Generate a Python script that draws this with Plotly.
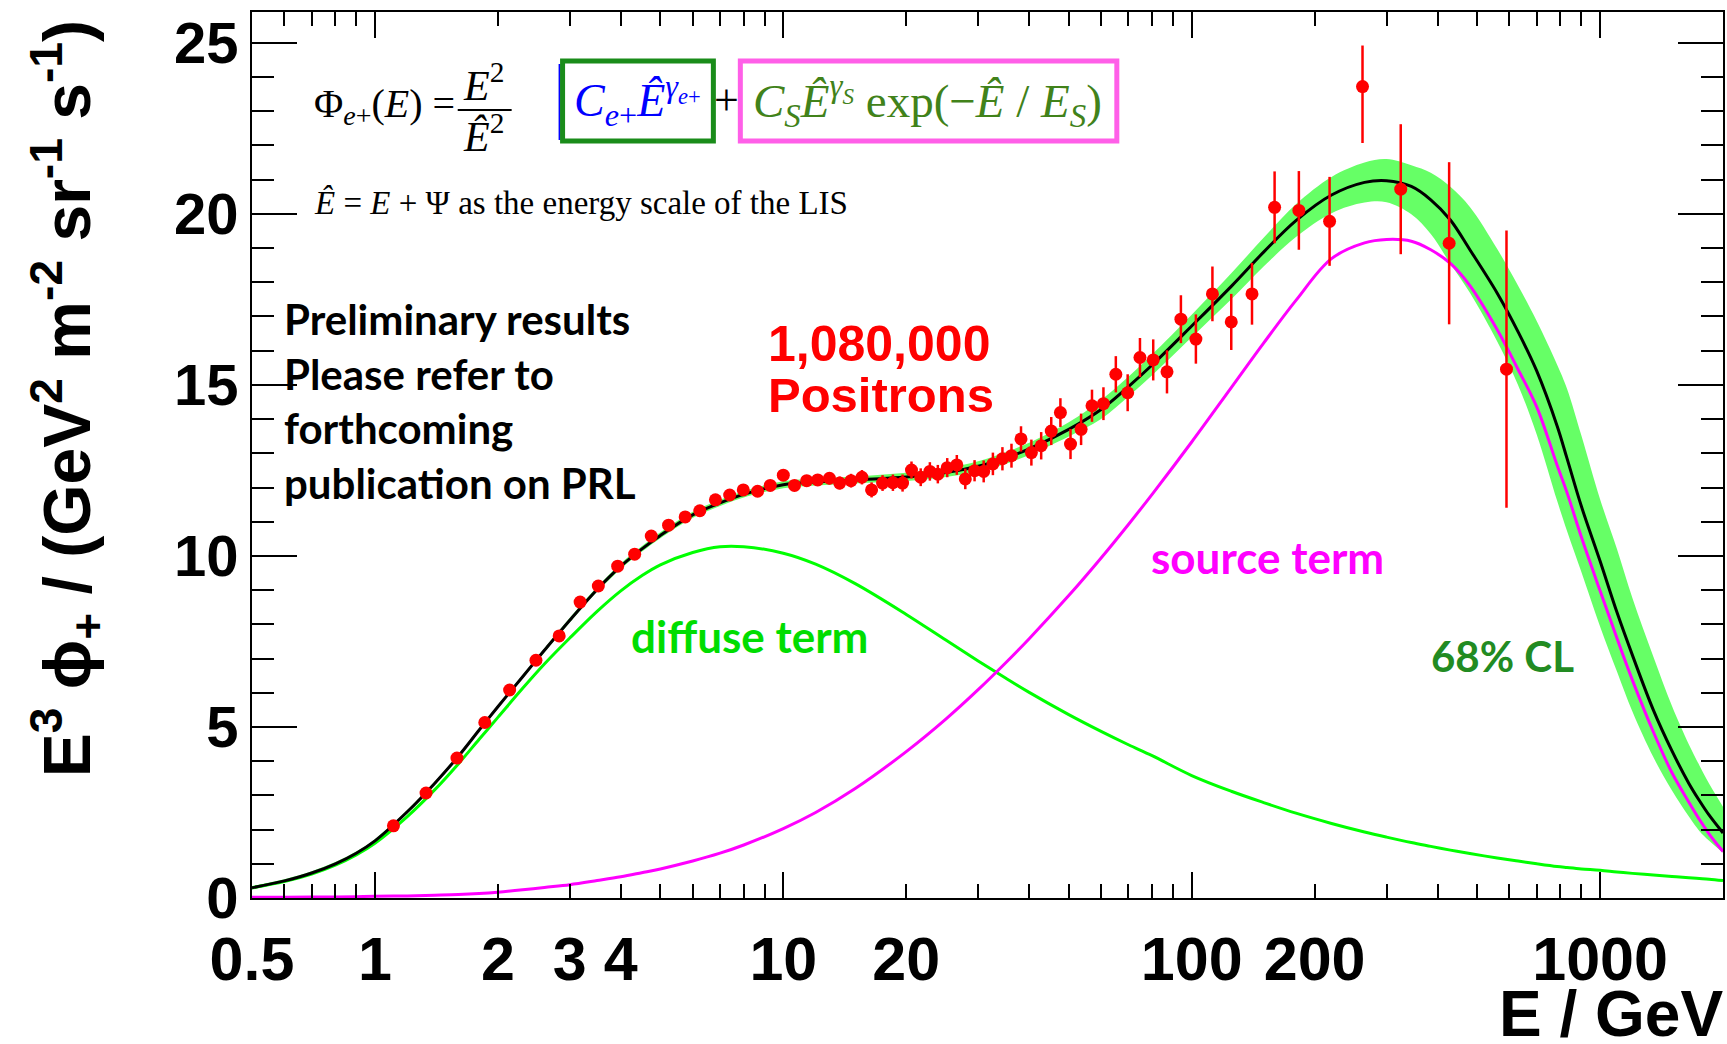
import numpy as np
import plotly.graph_objects as go

# ---------------- data ----------------
energy = [1.11, 1.334, 1.588, 1.858, 2.137, 2.479, 2.826, 3.18, 3.524, 3.93,
          4.325, 4.75, 5.236, 5.75, 6.245, 6.82, 7.39, 7.98, 8.65, 9.29,
          10.0, 10.65, 11.41, 12.14, 12.97, 13.74, 14.65, 15.58, 16.45, 17.5,
          18.55, 19.59, 20.6, 21.7, 22.85, 23.9, 25.2, 26.6, 27.9, 29.4,
          30.95, 32.6, 34.4, 36.2, 38.2, 40.5, 42.8, 45.3, 47.7, 50.5,
          53.6, 57.0, 60.8, 65.2, 69.7, 74.7, 80.5, 87.0, 94.1, 102.4,
          112.4, 125.0, 140.5, 159.6, 183.0, 217.6, 262.0, 325.0, 427.0, 590.0]
flux = [2.11, 3.07, 4.09, 5.13, 6.08, 6.95, 7.66, 8.65, 9.12, 9.70,
        10.05, 10.58, 10.90, 11.14, 11.32, 11.64, 11.78, 11.93, 11.89, 12.06,
        12.36, 12.06, 12.20, 12.22, 12.27, 12.13, 12.20, 12.30, 11.93, 12.13,
        12.14, 12.13, 12.51, 12.30, 12.47, 12.39, 12.58, 12.66, 12.25, 12.49,
        12.47, 12.69, 12.84, 12.93, 13.42, 13.02, 13.22, 13.65, 14.19, 13.27,
        13.70, 14.39, 14.45, 15.31, 14.77, 15.80, 15.73, 15.38, 16.92, 16.34,
        17.66, 16.84, 17.66, 20.19, 20.10, 19.78, 23.72, 20.72, 19.14, 15.46]
err_up = [0.08, 0.08, 0.08, 0.08, 0.08, 0.08, 0.08, 0.08, 0.08, 0.08,
          0.09, 0.09, 0.09, 0.10, 0.10, 0.10, 0.11, 0.11, 0.12, 0.12,
          0.14, 0.15, 0.16, 0.17, 0.18, 0.19, 0.20, 0.21, 0.22, 0.23,
          0.24, 0.25, 0.25, 0.26, 0.27, 0.27, 0.28, 0.29, 0.30, 0.31,
          0.32, 0.33, 0.34, 0.35, 0.37, 0.38, 0.40, 0.41, 0.42, 0.44,
          0.46, 0.47, 0.48, 0.53, 0.54, 0.57, 0.60, 0.63, 0.70, 0.72,
          0.80, 0.82, 0.90, 1.05, 1.15, 1.30, 1.20, 1.90, 2.37, 4.05]
err_down = [0.08, 0.08, 0.08, 0.08, 0.08, 0.08, 0.08, 0.08, 0.08, 0.08,
            0.09, 0.09, 0.09, 0.10, 0.10, 0.10, 0.11, 0.11, 0.12, 0.12,
            0.14, 0.15, 0.16, 0.17, 0.18, 0.19, 0.20, 0.21, 0.22, 0.23,
            0.24, 0.25, 0.25, 0.26, 0.27, 0.27, 0.28, 0.29, 0.30, 0.31,
            0.32, 0.33, 0.34, 0.35, 0.37, 0.38, 0.40, 0.41, 0.42, 0.44,
            0.46, 0.47, 0.48, 0.53, 0.54, 0.57, 0.60, 0.63, 0.70, 0.72,
            0.80, 0.82, 0.90, 1.05, 1.15, 1.30, 1.65, 1.90, 2.37, 4.05]

# model curves
curve_e = [0.5, 0.6, 0.7, 0.8, 0.9, 1.0, 1.2, 1.4, 1.6, 1.8, 2.0, 2.3, 2.6, 3.0, 3.5,
           4.0, 4.5, 5.0, 6.0, 7.0, 8.0, 10, 12, 15, 20, 25, 30, 35, 40, 50, 60, 70,
           80, 100, 125, 150, 180, 220, 265, 300, 345, 385, 430, 480, 560, 630, 700,
           785, 830, 900, 1000, 1100, 1200, 1350, 1500, 1650, 1750, 1850, 2000]
total_fit = [0.30, 0.50, 0.73, 1.00, 1.31, 1.67, 2.52, 3.35, 4.14, 4.91, 5.59, 6.47, 7.24, 8.12, 9.02,
             9.70, 10.20, 10.60, 11.20, 11.55, 11.80, 12.08, 12.16, 12.22, 12.31, 12.44, 12.62, 12.86, 13.13, 13.70, 14.28, 14.95,
             15.58, 16.72, 17.88, 18.88, 19.80, 20.55, 20.92, 20.97, 20.80, 20.41, 19.82, 18.95, 17.68, 16.55, 15.40,
             13.80, 12.85, 11.45, 9.85, 8.35, 7.10, 5.50, 4.30, 3.35, 2.85, 2.42, 1.90]
diffuse = [0.30, 0.48, 0.70, 0.96, 1.26, 1.60, 2.38, 3.16, 3.92, 4.64, 5.28, 6.13, 6.84, 7.60, 8.38,
           8.98, 9.42, 9.74, 10.10, 10.27, 10.27, 10.08, 9.76, 9.19, 8.29, 7.54, 6.93, 6.43, 6.01, 5.36, 4.87, 4.48,
           4.16, 3.58, 3.12, 2.79, 2.48, 2.18, 1.93, 1.78, 1.62, 1.51, 1.40, 1.30, 1.17, 1.08, 1.00,
           0.92, 0.89, 0.85, 0.81, 0.76, 0.72, 0.67, 0.63, 0.59, 0.57, 0.55, 0.51]
source = [0.02, 0.02, 0.03, 0.03, 0.04, 0.05, 0.06, 0.08, 0.10, 0.13, 0.17, 0.24, 0.31, 0.39, 0.51,
          0.62, 0.74, 0.85, 1.08, 1.31, 1.55, 2.03, 2.50, 3.20, 4.28, 5.23, 6.09, 6.87, 7.58, 8.84, 9.94, 10.92,
          11.80, 13.33, 14.92, 16.22, 17.47, 18.69, 19.15, 19.25, 19.20, 18.95, 18.55, 17.90, 16.61, 15.45, 14.35,
          12.65, 11.85, 10.55, 8.98, 7.59, 6.37, 4.86, 3.66, 2.80, 2.30, 1.87, 1.36]
band_upper = [0.35, 0.55, 0.78, 1.05, 1.36, 1.72, 2.57, 3.40, 4.19, 4.96, 5.64, 6.52, 7.30, 8.19, 9.09,
              9.78, 10.28, 10.69, 11.29, 11.64, 11.89, 12.18, 12.26, 12.32, 12.43, 12.57, 12.77, 13.03, 13.31, 13.91, 14.56, 15.24,
              15.89, 17.05, 18.26, 19.30, 20.28, 21.08, 21.50, 21.60, 21.42, 21.20, 20.79, 20.20, 18.97, 17.90, 16.86,
              15.59, 14.89, 13.52, 11.66, 10.20, 8.77, 7.06, 5.61, 4.49, 3.88, 3.34, 2.67]
band_lower = [0.25, 0.45, 0.68, 0.95, 1.26, 1.62, 2.47, 3.30, 4.09, 4.86, 5.54, 6.42, 7.18, 8.05, 8.95,
              9.62, 10.12, 10.52, 11.11, 11.46, 11.71, 11.98, 12.06, 12.12, 12.19, 12.31, 12.47, 12.69, 12.95, 13.49, 14.00, 14.66,
              15.28, 16.39, 17.50, 18.46, 19.32, 20.02, 20.33, 20.34, 19.99, 19.41, 18.54, 17.69, 16.27, 14.99, 13.54,
              11.61, 10.73, 9.53, 7.94, 6.62, 5.45, 4.12, 3.14, 2.38, 1.96, 1.67, 1.32]

x_label_vals = [0.5, 1, 2, 3, 4, 10, 20, 100, 200, 1000]
x_label_text = ["0.5", "1", "2", "3", "4", "10", "20", "100", "200", "1000"]
x_major_ticks = [1, 10, 100, 1000]
x_minor_ticks = [0.6, 0.7, 0.8, 0.9, 2, 3, 4, 5, 6, 7, 8, 9, 20, 30, 40, 50, 60, 70, 80, 90,
                 200, 300, 400, 500, 600, 700, 800, 900, 2000]

# ---------------- figure ----------------
W, H = 1727, 1044
L, R, T, B = 252, 2, 12, 146
PW, PH = W - L - R, H - T - B

def px(x):
    return (x - L) / PW

def py(y):
    return (H - B - y) / PH

fig = go.Figure()

fig.add_trace(go.Scatter(x=curve_e, y=band_lower, mode="lines", line=dict(width=0, shape="spline"),
                         hoverinfo="skip", showlegend=False))
fig.add_trace(go.Scatter(x=curve_e, y=band_upper, mode="lines", line=dict(width=0, shape="spline"),
                         fill="tonexty", fillcolor="#66ff66", hoverinfo="skip", showlegend=False))
fig.add_trace(go.Scatter(x=curve_e, y=diffuse, mode="lines",
                         line=dict(color="#00ff00", width=3, shape="spline"), showlegend=False))
fig.add_trace(go.Scatter(x=curve_e, y=source, mode="lines",
                         line=dict(color="#ff00ff", width=3, shape="spline"), showlegend=False))
fig.add_trace(go.Scatter(x=curve_e, y=total_fit, mode="lines",
                         line=dict(color="black", width=3, shape="spline"), showlegend=False))
# data points are drawn on the overlaid (labelled) x axis, which has the same range
fig.add_trace(go.Scatter(x=energy, y=flux, mode="markers", xaxis="x2", yaxis="y",
                         marker=dict(color="#ff0000", size=13),
                         error_y=dict(type="data", array=err_up, arrayminus=err_down,
                                      color="#ff0000", thickness=2.5, width=0),
                         showlegend=False))

xr = [np.log10(0.5), np.log10(2000)]

fig.update_layout(
    width=W, height=H,
    margin=dict(l=L, r=R, t=T, b=B, pad=0),
    paper_bgcolor="white", plot_bgcolor="white",
    xaxis=dict(type="log", range=xr, tickmode="array", tickvals=x_major_ticks,
               ticks="inside", ticklen=26, tickwidth=2, tickcolor="black",
               showticklabels=False, showgrid=False, zeroline=False,
               showline=True, linecolor="black", linewidth=2, mirror="ticks",
               minor=dict(tickmode="array", tickvals=x_minor_ticks, ticks="inside",
                          ticklen=14, tickwidth=2, tickcolor="black", showgrid=False)),
    xaxis2=dict(type="log", range=xr, overlaying="x", anchor="y", side="bottom",
                tickmode="array", tickvals=x_label_vals, ticktext=x_label_text,
                ticks="", showline=False, showgrid=False, zeroline=False,
                ticklabelstandoff=20,
                tickfont=dict(family="Liberation Sans", size=61, color="black", weight="bold")),
    yaxis=dict(range=[0, 25.9], tickmode="linear", tick0=0, dtick=5,
               ticks="inside", ticklen=45, tickwidth=2, tickcolor="black",
               showgrid=False, zeroline=False,
               showline=True, linecolor="black", linewidth=2, mirror="ticks",
               tickfont=dict(family="Liberation Sans", size=58, color="black", weight="bold"),
               minor=dict(dtick=1, ticks="inside", ticklen=22, tickwidth=2,
                          tickcolor="black", showgrid=False)),
)

ann = []
# axis titles
ann.append(dict(text="E<sup>3</sup> ϕ<sub>+</sub> / (GeV<sup>2</sup> m<sup>-2</sup> sr<sup>-1</sup> s<sup>-1</sup>)",
                x=px(67), y=py(399), xref="paper", yref="paper", textangle=-90,
                showarrow=False, xanchor="center", yanchor="middle",
                font=dict(family="Liberation Sans", size=66, color="black", weight="bold")))
ann.append(dict(text="E / GeV", x=px(1727), y=py(1014), xref="paper", yref="paper",
                showarrow=False, xanchor="right", yanchor="middle",
                font=dict(family="Liberation Sans", size=64, color="black", weight="bold")))
# notes
ann.append(dict(text="Preliminary results<br>Please refer to<br>forthcoming<br>publication on PRL",
                x=px(282), y=py(292), xref="paper", yref="paper", showarrow=False,
                xanchor="left", yanchor="top", align="left",
                font=dict(family="Lato", size=42, color="black", weight="bold")))
ann.append(dict(text="1,080,000", x=px(880), y=py(344), xref="paper", yref="paper",
                showarrow=False, xanchor="center", yanchor="middle",
                font=dict(family="Liberation Sans", size=50, color="#ff0000", weight="bold")))
ann.append(dict(text="Positrons", x=px(882), y=py(395), xref="paper", yref="paper",
                showarrow=False, xanchor="center", yanchor="middle",
                font=dict(family="Liberation Sans", size=49, color="#ff0000", weight="bold")))
ann.append(dict(text="diffuse term", x=px(630), y=py(636), xref="paper", yref="paper",
                showarrow=False, xanchor="left", yanchor="middle",
                font=dict(family="Lato", size=44, color="#00dd00", weight="bold")))
ann.append(dict(text="source term", x=px(1150), y=py(557), xref="paper", yref="paper",
                showarrow=False, xanchor="left", yanchor="middle",
                font=dict(family="Lato", size=44, color="#ff00ff", weight="bold")))
ann.append(dict(text="68% CL", x=px(1431), y=py(656), xref="paper", yref="paper",
                showarrow=False, xanchor="left", yanchor="middle",
                font=dict(family="Lato", size=42, color="#228b22", weight="bold")))
# formula
serif = "Liberation Serif"
ann.append(dict(text="Φ<sub><i>e</i>+</sub>(<i>E</i>) =", x=px(312), y=py(106), xref="paper", yref="paper",
                showarrow=False, xanchor="left", yanchor="middle",
                font=dict(family=serif, size=40, color="black")))
ann.append(dict(text="<i>E</i><sup>2</sup>", x=px(484), y=py(82), xref="paper", yref="paper",
                showarrow=False, xanchor="center", yanchor="middle",
                font=dict(family=serif, size=42, color="black")))
ann.append(dict(text="<i>Ê</i><sup>2</sup>", x=px(484), y=py(134), xref="paper", yref="paper",
                showarrow=False, xanchor="center", yanchor="middle",
                font=dict(family=serif, size=42, color="black")))
ann.append(dict(text="<i>C</i><sub><i>e</i>+</sub><i>Ê</i><sup><i>γ</i><sub><i>e</i>+</sub></sup>",
                x=px(638), y=py(101), xref="paper", yref="paper",
                showarrow=False, xanchor="center", yanchor="middle",
                font=dict(family=serif, size=46, color="#0000ff")))
ann.append(dict(text="+", x=px(727), y=py(101), xref="paper", yref="paper",
                showarrow=False, xanchor="center", yanchor="middle",
                font=dict(family=serif, size=44, color="black")))
ann.append(dict(text="<i>C</i><sub><i>S</i></sub><i>Ê</i><sup><i>γ</i><sub><i>S</i></sub></sup> exp(−<i>Ê</i> / <i>E</i><sub><i>S</i></sub>)",
                x=px(928), y=py(101), xref="paper", yref="paper",
                showarrow=False, xanchor="center", yanchor="middle",
                font=dict(family=serif, size=47, color="#41821a")))
ann.append(dict(text="<i>Ê</i> = <i>E</i> + Ψ as the energy scale of the LIS",
                x=px(312), y=py(203), xref="paper", yref="paper",
                showarrow=False, xanchor="left", yanchor="middle",
                font=dict(family=serif, size=33, color="black")))

shapes = [
    dict(type="line", xref="paper", yref="paper", x0=px(458), x1=px(512), y0=py(110), y1=py(110),
         line=dict(color="black", width=2)),
    dict(type="line", xref="paper", yref="paper", x0=px(560), x1=px(560), y0=py(140), y1=py(64),
         line=dict(color="#0000ff", width=2)),
    dict(type="rect", xref="paper", yref="paper", x0=px(563), x1=px(714), y0=py(141), y1=py(61),
         line=dict(color="#1a8c1a", width=5)),
    dict(type="rect", xref="paper", yref="paper", x0=px(741), x1=px(1118), y0=py(141), y1=py(61),
         line=dict(color="#ff5fe8", width=5)),
]

fig.update_layout(annotations=ann, shapes=shapes)
fig.write_html("out.html")
